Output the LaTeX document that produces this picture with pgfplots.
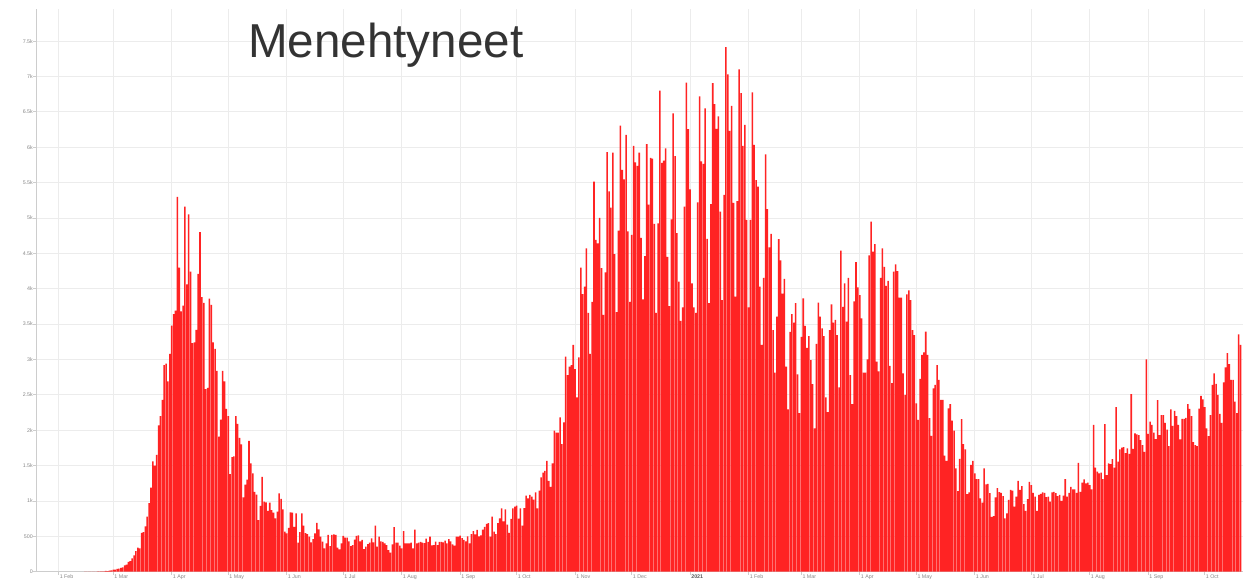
\documentclass[border=0pt]{standalone}
\usepackage{pgfplots}
\pgfplotsset{compat=1.18}
\usepackage{fontspec}
\setmainfont{Liberation Sans}

\definecolor{barred}{RGB}{255,35,35}
\definecolor{gridgray}{RGB}{236,236,236}
\definecolor{axisgray}{RGB}{205,205,205}
\definecolor{ticktext}{RGB}{135,135,135}
\definecolor{titletext}{RGB}{51,51,51}

\begin{document}
\begin{tikzpicture}
% page = 1255 x 581 (1 px = 1 pt), plot area 36..1243 x 9.3..571.7
\useasboundingbox (-36pt,-9.3pt) rectangle (1219pt,571.7pt);
\begin{axis}[
  at={(0pt,0pt)}, anchor=south west,
  scale only axis,
  width=1207pt, height=562.4pt,
  xmin=19, xmax=659.3,
  ymin=0, ymax=7950,
  axis x line*=bottom, axis y line*=left,
  axis line style={draw=axisgray, line width=0.8pt},
  xtick={31,60,91,121,152,182,213,244,274,305,335,366,397,425,456,486,517,547,578,609,639},
  xticklabels={1 Feb,1 Mar,1 Apr,1 May,1 Jun,1 Jul,1 Aug,1 Sep,1 Oct,1 Nov,1 Dec,
    {\bfseries\color{black!65}2021},1 Feb,1 Mar,1 Apr,1 May,1 Jun,1 Jul,1 Aug,1 Sep,1 Oct},
  ytick={0,500,...,7500},
  yticklabels={0,500,1k,1.5k,2k,2.5k,3k,3.5k,4k,4.5k,5k,5.5k,6k,6.5k,7k,7.5k},
  grid=major,
  major grid style={draw=gridgray, line width=0.8pt},
  tick style={draw=axisgray, line width=0.8pt},
  tick align=outside,
  major tick length=3pt,
  ticklabel style={font=\fontsize{5.3}{6}\selectfont, text=ticktext, inner sep=0pt},
  xticklabel style={anchor=north west, xshift=1pt},
  yticklabel style={anchor=east},
  /pgf/number format/assume math mode=true,
]

% kuolleet päivittäin, x = päivä vuoden 2020 alusta (1.1.2020 = 0)
\addplot[ybar, bar width=0.82, fill=barred, draw=none] coordinates {
  (45,1)(46,0)(47,0)(48,0)(49,0)(50,0)(51,2)(52,3)(53,4)(54,6)(55,5)(56,12)(57,8)(58,14)(59,20)
  (60,30)(61,30)(62,40)(63,45)(64,55)(65,60)(66,90)(67,100)(68,140)(69,150)(70,190)(71,230)(72,290)(73,340)(74,330)(75,550)(76,560)(77,640)(78,780)(79,970)(80,1190)(81,1560)(82,1500)(83,1650)(84,2070)(85,2200)(86,2430)(87,2920)(88,2940)(89,2690)(90,3080)
  (91,3480)(92,3640)(93,3690)(94,5300)(95,4300)(96,3680)(97,3760)(98,5160)(99,4060)(100,5050)(101,4240)(102,3230)(103,3240)(104,3420)(105,4210)(106,4800)(107,3880)(108,3800)(109,2580)(110,2600)(111,3860)(112,3770)(113,3240)(114,3150)(115,2840)(116,1910)(117,2150)(118,2840)(119,2690)(120,2300)
  (121,2200)(122,1380)(123,1620)(124,1630)(125,2200)(126,2090)(127,1890)(128,1800)(129,1050)(130,1230)(131,1300)(132,1850)(133,1530)(134,1390)(135,1130)(136,1090)(137,730)(138,930)(139,1340)(140,990)(141,980)(142,860)(143,975)(144,870)(145,835)(146,755)(147,850)(148,1108)(149,1030)(150,880)(151,565)
  (152,540)(153,620)(154,840)(155,835)(156,635)(157,825)(158,410)(159,560)(160,825)(161,650)(162,545)(163,530)(164,495)(165,415)(166,460)(167,540)(168,690)(169,600)(170,495)(171,425)(172,330)(173,400)(174,520)(175,360)(176,520)(177,528)(178,520)(179,340)(180,315)(181,400)
  (182,505)(183,480)(184,480)(185,430)(186,363)(187,375)(188,455)(189,505)(190,514)(191,430)(192,450)(193,320)(194,353)(195,390)(196,410)(197,470)(198,415)(199,650)(200,353)(201,495)(202,430)(203,420)(204,400)(205,377)(206,306)(207,268)(208,386)(209,630)(210,410)(211,410)(212,370)
  (213,330)(214,575)(215,400)(216,400)(217,400)(218,410)(219,330)(220,595)(221,400)(222,410)(223,420)(224,410)(225,405)(226,466)(227,420)(228,495)(229,372)(230,377)(231,425)(232,377)(233,420)(234,420)(235,415)(236,440)(237,400)(238,460)(239,430)(240,386)(241,367)(242,495)(243,495)
  (244,509)(245,476)(246,450)(247,430)(248,500)(249,400)(250,530)(251,575)(252,528)(253,590)(254,500)(255,514)(256,595)(257,635)(258,675)(259,685)(260,495)(261,780)(262,565)(263,530)(264,685)(265,755)(266,895)(267,710)(268,880)(269,665)(270,550)(271,745)(272,895)(273,920)
  (274,935)(275,750)(276,895)(277,650)(278,900)(279,1075)(280,1035)(281,1085)(282,1060)(283,1020)(284,1120)(285,895)(286,1145)(287,1335)(288,1400)(289,1425)(290,1565)(291,1285)(292,1200)(293,1530)(294,1995)(295,1965)(296,1965)(297,2180)(298,1805)(299,2110)(300,3040)(301,2780)(302,2900)(303,2920)(304,3205)
  (305,2865)(306,2465)(307,3030)(308,4300)(309,3925)(310,4030)(311,4570)(312,3660)(313,3080)(314,3815)(315,5515)(316,4690)(317,4640)(318,5000)(319,4290)(320,3630)(321,4230)(322,5930)(323,5375)(324,5145)(325,5925)(326,4490)(327,3670)(328,4820)(329,6305)(330,5680)(331,5545)(332,6175)(333,4810)(334,3815)
  (335,4760)(336,6020)(337,5785)(338,5735)(339,5925)(340,4720)(341,3850)(342,4460)(343,6045)(344,5190)(345,5850)(346,5840)(347,4915)(348,3660)(349,4925)(350,6800)(351,5780)(352,5810)(353,5985)(354,4450)(355,3755)(356,4980)(357,6480)(358,5875)(359,4785)(360,4100)(361,3545)(362,3735)(363,5160)(364,6915)(365,6255)
  (366,5405)(367,4075)(368,3735)(369,3660)(370,5220)(371,6720)(372,5800)(373,5765)(374,6550)(375,4705)(376,3795)(377,5195)(378,6905)(379,6610)(380,6260)(381,6435)(382,5090)(383,3840)(384,5325)(385,7415)(386,7030)(387,6230)(388,6585)(389,5215)(390,3890)(391,5240)(392,7100)(393,6765)(394,6020)(395,6315)(396,4975)
  (397,3735)(398,4975)(399,6775)(400,6035)(401,5535)(402,5445)(403,4030)(404,3205)(405,4155)(406,5900)(407,5125)(408,4585)(409,4775)(410,3415)(411,2815)(412,3605)(413,4700)(414,4400)(415,3930)(416,4140)(417,2900)(418,2295)(419,3390)(420,3640)(421,3520)(422,3795)(423,2790)(424,2240)
  (425,3320)(426,3865)(427,3475)(428,3165)(429,3330)(430,2990)(431,2650)(432,2025)(433,3220)(434,3805)(435,3605)(436,3440)(437,3330)(438,2465)(439,2255)(440,3415)(441,3780)(442,3520)(443,3560)(444,3345)(445,2605)(446,4540)(447,3745)(448,4075)(449,3535)(450,4155)(451,2780)(452,2370)(453,3820)(454,4375)(455,4020)
  (456,3910)(457,3580)(458,2815)(459,2815)(460,3000)(461,4470)(462,4950)(463,4525)(464,4630)(465,2970)(466,2830)(467,4155)(468,4570)(469,4310)(470,4040)(471,4110)(472,2910)(473,2665)(474,4240)(475,4345)(476,4250)(477,3875)(478,3875)(479,2805)(480,2500)(481,3920)(482,3975)(483,3840)(484,3415)(485,3345)
  (486,2380)(487,2145)(488,2725)(489,3065)(490,3100)(491,3395)(492,3065)(493,2170)(494,1920)(495,2590)(496,2640)(497,2920)(498,2710)(499,2430)(500,2430)(501,1640)(502,1565)(503,2310)(504,2370)(505,2135)(506,1995)(507,1460)(508,1140)(509,1595)(510,2155)(511,1805)(512,1730)(513,1095)(514,1120)(515,1510)(516,1565)
  (517,1390)(518,1310)(519,1310)(520,1035)(521,975)(522,1460)(523,1235)(524,1240)(525,1110)(526,775)(527,785)(528,1050)(529,1180)(530,1125)(531,1115)(532,1070)(533,755)(534,825)(535,1015)(536,1155)(537,1145)(538,920)(539,1060)(540,1285)(541,1155)(542,1210)(543,955)(544,860)(545,1025)(546,1270)
  (547,1225)(548,1115)(549,1060)(550,860)(551,1085)(552,1100)(553,1120)(554,1115)(555,1055)(556,1060)(557,990)(558,1120)(559,1130)(560,1110)(561,1070)(562,1085)(563,1000)(564,1075)(565,1310)(566,1060)(567,1115)(568,1200)(569,1165)(570,1165)(571,1115)(572,1540)(573,1130)(574,1260)(575,1305)(576,1250)(577,1260)
  (578,1225)(579,1165)(580,2075)(581,1470)(582,1415)(583,1390)(584,1400)(585,1310)(586,2085)(587,1365)(588,1530)(589,1520)(590,1590)(591,1470)(592,2325)(593,1555)(594,1730)(595,1755)(596,1760)(597,1675)(598,1745)(599,1665)(600,2510)(601,1735)(602,1955)(603,1940)(604,1930)(605,1860)(606,1790)(607,1695)(608,3000)
  (609,1950)(610,2120)(611,2075)(612,1965)(613,1875)(614,2425)(615,1930)(616,2215)(617,2215)(618,2105)(619,2010)(620,1775)(621,2295)(622,2060)(623,2275)(624,2200)(625,2075)(626,1870)(627,2160)(628,2160)(629,2175)(630,2370)(631,2300)(632,2200)(633,1830)(634,1790)(635,1775)(636,2305)(637,2485)(638,2435)
  (639,2325)(640,2025)(641,1915)(642,2215)(643,2640)(644,2805)(645,2655)(646,2500)(647,2230)(648,2105)(649,2675)(650,2890)(651,3090)(652,2935)(653,2710)(654,2710)(655,2405)(656,2240)(657,3355)(658,3205)
};

\node[anchor=base west, inner sep=0pt, text=titletext,
  font=\fontsize{47.6}{50}\selectfont] at (rel axis cs:0.1756,0.9143) {Menehtyneet};
\end{axis}
\end{tikzpicture}
\end{document}
